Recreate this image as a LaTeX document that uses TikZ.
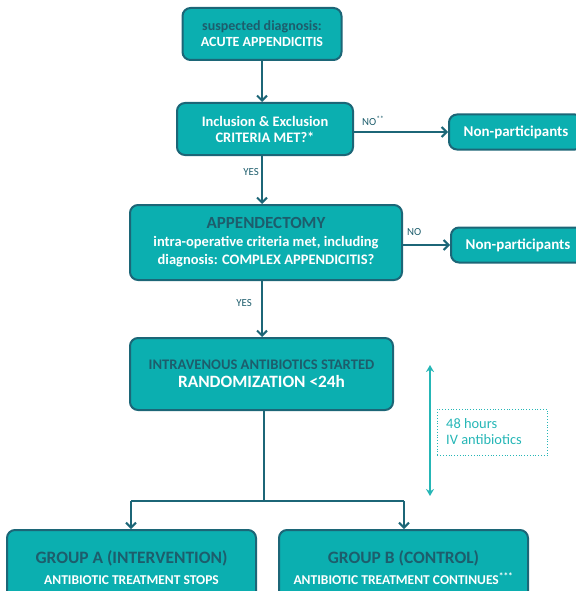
\documentclass[tikz,border=0pt]{standalone}
\usepackage{fontspec}
\setmainfont{Carlito}
\usetikzlibrary{arrows.meta}
\definecolor{boxfill}{HTML}{0BAFB0}
\definecolor{boxdraw}{HTML}{1C6677}
\definecolor{darktxt}{HTML}{1D5D6C}
\definecolor{lightteal}{HTML}{25B6B6}
\newcommand{\fs}[2]{\fontsize{#1}{#2}\selectfont\bfseries}
\tikzset{
  flowbox/.style={draw=boxdraw, fill=boxfill, line width=2pt, rounded corners=8pt, align=center, inner sep=0pt},
  arr/.style={draw=boxdraw, line width=2pt, -{Straight Barb[length=5pt,width=10pt,line width=2pt]}},
  ln/.style={draw=boxdraw, line width=2pt},
  lbl/.style={text=darktxt, font=\fontsize{10.8}{12}\selectfont, inner sep=0pt}
}
\begin{document}
\begin{tikzpicture}[x=1pt,y=-1pt]
\useasboundingbox (0,0) rectangle (575,591);
% boxes
\node[flowbox, minimum width=159pt, minimum height=52pt, font=\fs{14}{16}] (b1) at (262,34) {%
  \textcolor{darktxt}{suspected diagnosis:}\\
  \textcolor{white}{ACUTE APPENDICITIS}};
\node[flowbox, minimum width=176pt, minimum height=52pt, font=\fs{14.5}{16}] (b2) at (265,129) {%
  \textcolor{white}{Inclusion \& Exclusion}\\
  \textcolor{white}{CRITERIA MET?*}};
\node[flowbox, minimum width=134pt, minimum height=35pt, anchor=west, font=\fs{15}{16}] (n1) at (448,132) {%
  \textcolor{white}{Non-participants}};
\node[flowbox, minimum width=272pt, minimum height=75pt, font=\fs{14.5}{18}] (b3) at (266,242.5) {%
  {\fs{17}{20}\textcolor{darktxt}{APPENDECTOMY}}\\
  \textcolor{white}{intra-operative criteria met, including}\\
  \textcolor{white}{diagnosis: COMPLEX APPENDICITIS?}};
\node[flowbox, minimum width=134pt, minimum height=35pt, anchor=west, font=\fs{15}{16}] (n2) at (450,245) {%
  \textcolor{white}{Non-participants}};
\node[flowbox, minimum width=263pt, minimum height=72pt, font=\fs{14.6}{18}] (b4) at (261.5,374) {%
  \textcolor{darktxt}{INTRAVENOUS ANTIBIOTICS STARTED}\\
  {\fs{17.3}{18}\textcolor{white}{RANDOMIZATION <24h}}};
\node[flowbox, minimum width=249pt, minimum height=71pt] (ga) at (131.5,565.5) {};
\node[flowbox, minimum width=249pt, minimum height=71pt] (gb) at (403.5,565.5) {};
\node[align=center, inner sep=0pt, font=\fs{13.5}{21}] (gat) at (131.5,568) {%
  {\fs{17.4}{21}\textcolor{darktxt}{GROUP A (INTERVENTION)}}\\
  \textcolor{white}{ANTIBIOTIC TREATMENT STOPS}};
\node[align=center, inner sep=0pt, font=\fs{13.5}{21}] (gbt) at (403.5,568) {%
  {\fs{17.4}{21}\textcolor{darktxt}{GROUP B (CONTROL)}}\\
  \textcolor{white}{ANTIBIOTIC TREATMENT CONTINUES\textsuperscript{***}}};
% connectors
\coordinate (c1) at (262,60);
\draw[arr] (c1) -- (c1 |- b2.north);
\coordinate (c2) at (262,155);
\draw[arr] (c2) -- (c2 |- b3.north);
\coordinate (c3) at (262,280);
\draw[arr] (c3) -- (c3 |- b4.north);
\draw[arr] (b2.east |- n1.west) -- (n1.west);
\draw[arr] (b3.east |- n2.west) -- (n2.west);
\coordinate (c4) at (264,410);
\coordinate (j) at (264,501);
\coordinate (ja) at (131,501);
\coordinate (jb) at (404,501);
\draw[ln] (c4) -- (j);
\draw[ln] (ja) -- (jb);
\draw[arr] (ja) -- (ja |- ga.north);
\draw[arr] (jb) -- (jb |- gb.north);
% labels
\node[lbl, anchor=west] (lno1) at (362,121) {NO\textsuperscript{**}};
\node[lbl, anchor=east] (lyes1) at (259,172) {YES};
\node[lbl, anchor=west] (lno2) at (407,232) {NO};
\node[lbl, anchor=east] (lyes2) at (252,303) {YES};
% 48 hours
\coordinate (t1) at (430,365);
\coordinate (t2) at (430,496);
\draw[draw=lightteal, line width=2.2pt, {Stealth[length=7pt,width=8pt]}-{Stealth[length=7pt,width=8pt]}] (t1) -- (t2);
\node[draw=lightteal, dotted, line width=0.8pt, minimum width=110pt, minimum height=46pt, anchor=north west, inner sep=0pt] (hb) at (437,409) {};
\node[anchor=west, align=left, text=lightteal, font=\fontsize{14.4}{16}\selectfont, inner sep=0pt] (ht) at (446,432) {48 hours\\IV antibiotics};
\end{tikzpicture}
\end{document}
